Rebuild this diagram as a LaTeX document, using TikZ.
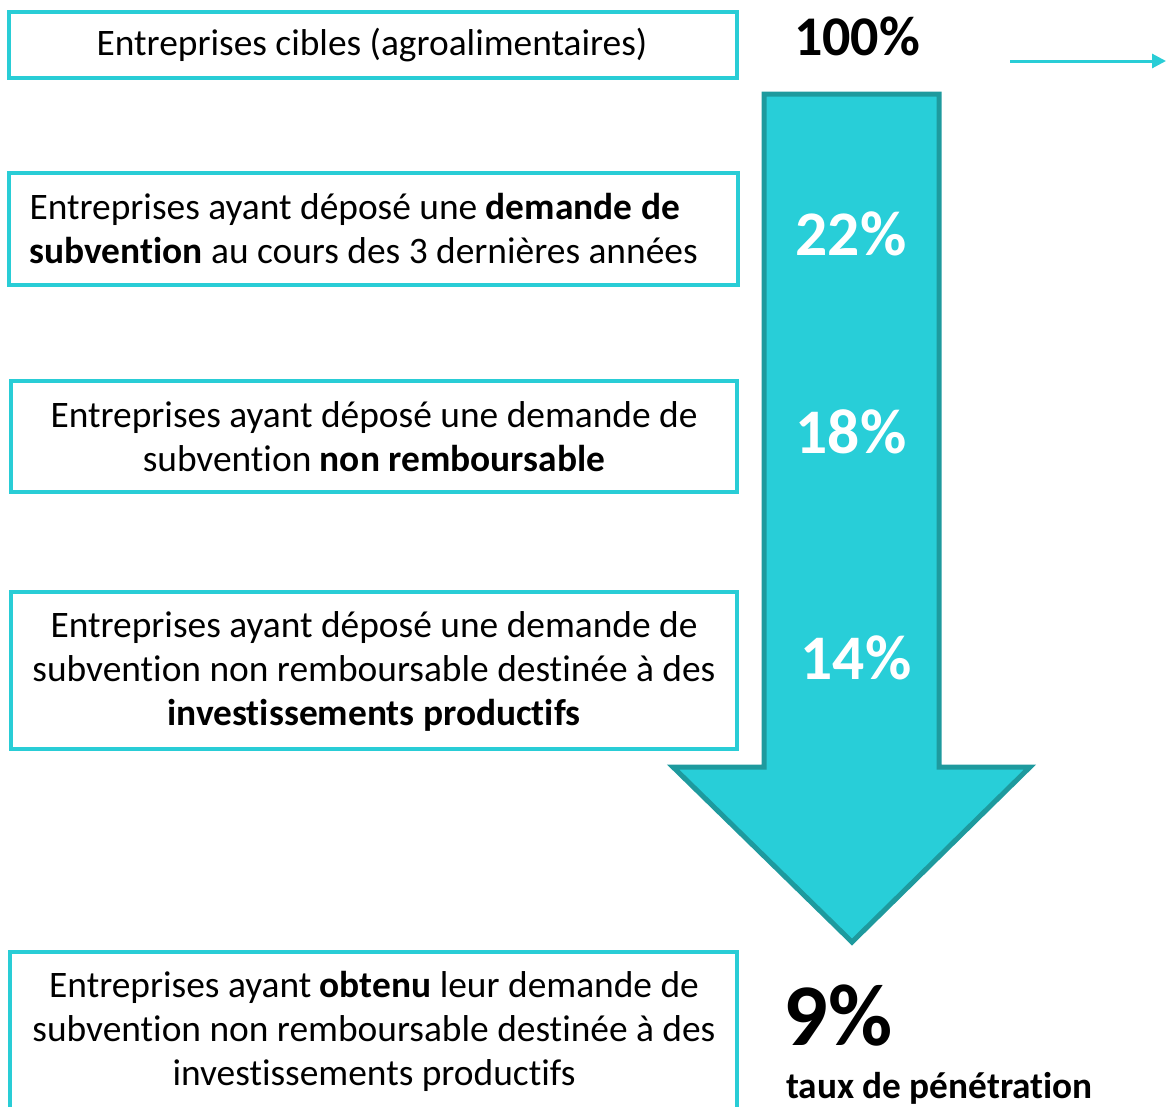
\documentclass[tikz,border=0pt]{standalone}
\usepackage{fontspec}
\setmainfont{Carlito}[Ligatures=NoCommon]
\usetikzlibrary{arrows.meta}
\definecolor{cyanb}{HTML}{29CDD6}
\definecolor{arrfill}{HTML}{28CED8}
\definecolor{arrdraw}{HTML}{1E9A9E}
\tikzset{
  box/.style={draw=cyanb, line width=4pt, fill=white},
  boxtext/.style={font=\fontsize{37.4}{44}\selectfont, align=center},
  pctw/.style={font=\fontsize{63.5}{66}\selectfont\bfseries, text=white},
}
\begin{document}
\begin{tikzpicture}[x=1pt,y=-1pt]
\useasboundingbox (0,0) rectangle (1166,1106);
% big arrow
\draw[fill=arrfill, draw=arrdraw, line width=5pt, line join=miter]
  (764,94) -- (939,94) -- (939,767) -- (1030,767) -- (852,942) -- (673,767) -- (764,767) -- cycle;
% boxes
\draw[box] (9,12) rectangle (737,78);
\node[boxtext] (b1) at (372,45) {Entreprises cibles (agroalimentaires)};
\draw[box] (9,173) rectangle (738,285);
\node[boxtext, align=left, anchor=west] (b2) at (26,229) {Entreprises ayant déposé une \textbf{demande de}\\\textbf{subvention} au cours des 3 dernières années};
\draw[box] (11,381) rectangle (737,492);
\node[boxtext] (b3) at (374,437) {Entreprises ayant déposé une demande de\\subvention \textbf{non remboursable}};
\draw[box] (11,592) rectangle (737,749);
\node[boxtext] (b4) at (374,671) {Entreprises ayant déposé une demande de\\subvention non remboursable destinée à des\\\textbf{investissements productifs}};
\draw[box] (10,952) rectangle (737,1115);
\node[boxtext] (b5) at (374,1031) {Entreprises ayant \textbf{obtenu} leur demande de\\subvention non remboursable destinée à des\\investissements productifs};
% percentages
\node[font=\fontsize{56}{60}\selectfont\bfseries] (p100) at (857,36) {100\%};
\node[pctw] (p22) at (851,234) {22\%};
\node[pctw] (p18) at (851,432) {18\%};
\node[pctw] (p14) at (856,658) {14\%};
\node[font=\fontsize{88}{92}\selectfont\bfseries] (p9) at (838,1016) {9\%};
\node[font=\fontsize{37.3}{40}\selectfont\bfseries] (taux) at (939.5,1088) {taux de pénétration};
% small arrow top right
\coordinate (a1) at (1010,61);
\coordinate (a2) at (1166,61);
\draw[cyanb, line width=3pt, -{Triangle[length=14pt,width=14pt]}] (a1) -- (a2);
\end{tikzpicture}
\end{document}
